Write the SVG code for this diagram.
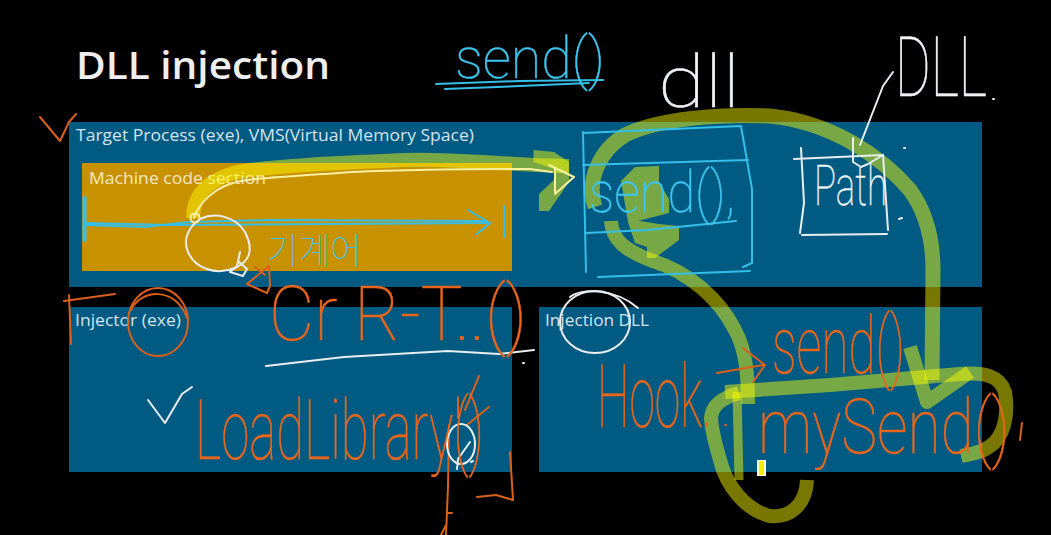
<svg xmlns="http://www.w3.org/2000/svg" width="1051" height="535" viewBox="0 0 1051 535">
<style>
.panel{fill:#005a82}
.lbl{font-family:"Open Sans","Noto Sans","Liberation Sans",sans-serif;font-size:16.5px;fill:#d3e4ee}
.hl{fill:none;stroke:#ffff00;stroke-opacity:.47;stroke-linejoin:round}
.hf{fill:#ffff00;fill-opacity:.47;stroke:none}
.ink{fill:none;stroke-width:2;stroke-linecap:round;stroke-linejoin:round}
.o{stroke:#d9601a}.c{stroke:#35bfe8}.w{stroke:#e8eef0}
.hw{font-family:"Roboto","Inter","Noto Sans",sans-serif;font-weight:100;stroke-width:.5}
.ho{fill:#e8661c;stroke:#e8661c}.hc{fill:#3cc6ef;stroke:#3cc6ef}.hwh{fill:#f0f4f5;stroke:#f0f4f5}
</style>
<rect width="1051" height="535" fill="#000"/>
<g id="title"><text x="76" y="79" font-family="'Open Sans','Noto Sans','Liberation Sans',sans-serif" font-weight="600" font-size="38" fill="#eeeeee" textLength="254" lengthAdjust="spacingAndGlyphs">DLL injection</text></g>
<g id="target-process">
<rect class="panel" x="69" y="122" width="913" height="165"/>
<text class="lbl" x="76" y="141" textLength="398" lengthAdjust="spacingAndGlyphs">Target Process (exe), VMS(Virtual Memory Space)</text>
</g>
<g id="machine-code">
<rect x="82" y="163" width="430" height="108" fill="#c89100"/>
<text class="lbl" x="89" y="184" style="fill:#f6e9c0" textLength="177" lengthAdjust="spacingAndGlyphs">Machine code section</text>
</g>
<g id="injector">
<rect class="panel" x="69" y="307" width="443" height="165"/>
<text class="lbl" x="75" y="326" textLength="106" lengthAdjust="spacingAndGlyphs">Injector (exe)</text>
</g>
<g id="injection-dll">
<rect class="panel" x="539" y="307" width="443" height="165"/>
<text class="lbl" x="545" y="326" textLength="104" lengthAdjust="spacingAndGlyphs">Injection DLL</text>
</g>
<g id="highlights">
<path class="hl" stroke-width="14" d="M193 218C193 195 207 180 237 172C270 166 338 163 405 160C450 158 510 165 569 166"/>
<path class="hf" d="M533.500 150L554 152L569 162L569 182L549 211L539 211L539 194L555 179L554 169L533.500 162Z"/>
<path class="hl" stroke-width="15" d="M595 207C586 180 600 150 625 135C660 118 720 114 770 116C830 122 880 155 910 190C926 212 933 240 933 270L932 380"/>
<path class="hf" d="M621 181L635 167L659 166L659 182L669 199L669 213L638 221L628 219L659 224L679 226L679 240L655 258L647 258L647 247L635 243L628 222Z"/>
<path class="hl" stroke-width="14" d="M611 221C612 240 625 250 650 260C690 272 720 300 735 330C746 350 748 375 748 404"/>
<path class="hl" stroke-width="14" d="M910 347L927 402L970 372"/>
<path class="hl" stroke-width="14" d="M725 392L830 385L960 374C985 372 1000 376 1005 392C1008 410 1006 430 995 442C985 452 975 453 961 456"/>
<path class="hl" stroke-width="14" d="M739 393C722 398 712 405 711 418C712 435 716 445 720 460C726 485 745 510 770 516C790 518 806 505 807 480"/>
<path class="hl" stroke-width="9" d="M737 392L739 480"/>
<rect x="757" y="460" width="9" height="16" fill="#fffbe0"/><rect x="759" y="461" width="5" height="14" fill="#f4ee00"/>
</g>
<g id="marks">
<path class="ink o" d="M40 117L60 141L69 122L76 114"/>
<path class="ink c" d="M85 223L169 225L487 223M85 225L145 227L189 222L270 220L487 221M468 210L490 223L477 234M504 206L504 237"/>
<path class="ink c" style="stroke-width:4" d="M84.500 198L84.500 240"/>
<path class="ink w" d="M200 219C215 212 235 216 245 232C255 252 248 262 235 268C215 276 195 268 188 252C182 238 190 226 200 219"/>
<path class="ink w" d="M240 252L237 266L230 272L243 276L247 269L238 261"/>
<path class="ink" stroke="#f6f0a0" d="M194 218C198 205 212 190 230 184C245 178 270 178 338 173C380 170 440 169 530 169L552 172"/>
<path class="ink" stroke="#f6f0a0" d="M549 165L574 177L555 194M555 169L555 194"/>
<circle class="ink" stroke="#f6f0a0" cx="195" cy="218" r="4.500"/>
<path class="ink o" d="M247 284L269 266L270 286L267 293L247 284M255 267L265 275"/>
<path class="ink c" d="M436 84L520 81L603 80M445 89L520 86L589 83"/>
<path class="ink c" d="M583 133L741 126L752 189L752 263L743 267M583 132L586 272M583 165L748 160M586 233L648 230L736 221M598 277L750 271"/>
<path class="ink w" d="M794 159L883 155M801 148L804 203L800 233M883 155L888 230M802 235L887 234"/>
<path class="ink w" d="M893 72L883 86L860 145M853 138L853 162L861 167L868 164L883 155M993 99L994 99M904 148L905 148M899 219L902 218"/>
<path class="ink o" d="M64 301L115 294M69 295L71 344"/>
<ellipse class="ink o" cx="158" cy="322" rx="30" ry="34"/>
<path class="ink o" d="M131 310C140 290 175 285 187 318"/>
<path class="ink w" d="M266 366L344 357L448 351L499 354L534 350M523 363L524 363"/>
<path class="ink w" d="M148 400L165 423L182 394L192 387"/>
<path class="ink o" d="M479 376L465 410M458 397L458 418M489 407L467 425M510 452L513 500L496 495L477 497M449 425L448 487L446 535M447 513L452 513M441 535L446 525"/>
<ellipse class="ink w" cx="461" cy="444" rx="14" ry="20"/>
<path class="ink w" d="M470 442L458 459L457 469M471 462L473 461"/>
<ellipse class="ink w" cx="595" cy="322" rx="35" ry="31"/>
<path class="ink w" d="M570 297C580 288 615 288 638 308"/>
<path class="ink o" d="M717 373L763 365M743 348L765 365L753 382M725 425L726 425M1022 423L1020 440"/>
</g>
<g id="handwriting">
<text class="hw hc" x="455" y="78" font-size="58" textLength="150" lengthAdjust="spacingAndGlyphs">send()</text>
<text class="hw hwh" x="658" y="107" font-size="72" textLength="82" lengthAdjust="spacingAndGlyphs">dll</text>
<text class="hw hwh" x="895" y="96" font-size="84" textLength="92" lengthAdjust="spacingAndGlyphs">DLL</text>
<text class="hw hc" x="589" y="212" font-size="58" textLength="146" lengthAdjust="spacingAndGlyphs">send(),</text>
<text class="hw hwh" x="814" y="205" font-size="56" textLength="73" lengthAdjust="spacingAndGlyphs">Path</text>
<text x="267" y="264" font-family="'Noto Sans CJK KR',sans-serif" font-weight="100" font-size="36" fill="#3cc6ef" textLength="95" lengthAdjust="spacingAndGlyphs">기계어</text>
<text class="hw ho" x="269" y="340" font-size="76" textLength="258" lengthAdjust="spacingAndGlyphs">Cr R-T..()</text>
<text class="hw ho" x="195" y="459" font-size="84" textLength="289" lengthAdjust="spacingAndGlyphs">LoadLibrary()</text>
<text class="hw ho" x="597" y="427" font-size="88" textLength="115" lengthAdjust="spacingAndGlyphs">Hook.</text>
<text class="hw ho" x="772" y="373" font-size="80" textLength="133" lengthAdjust="spacingAndGlyphs">send()</text>
<text class="hw ho" x="758" y="453" font-size="76" textLength="252" lengthAdjust="spacingAndGlyphs">mySend()</text>
</g>
</svg>
